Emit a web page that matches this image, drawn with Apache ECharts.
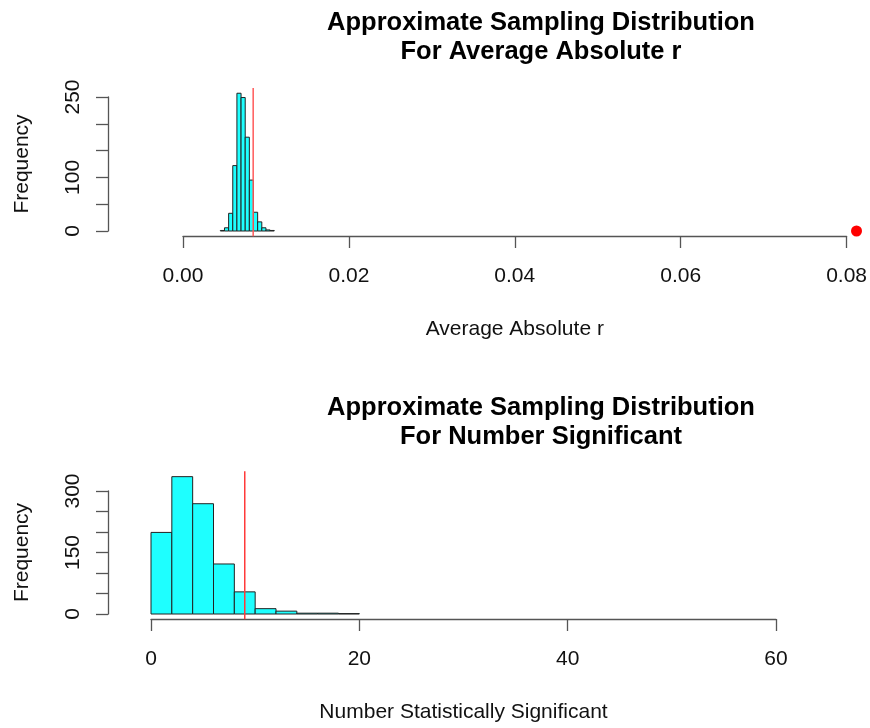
<!DOCTYPE html>
<html>
<head>
<meta charset="utf-8">
<script src="https://cdn.jsdelivr.net/npm/echarts@6/dist/echarts.min.js"></script>
<style>
  html, body { margin: 0; padding: 0; background: #fff; }
  #chart { width: 870px; height: 728px; }
</style>
</head>
<body>
<div id="chart"></div>
<script>
// top histogram: average absolute r
var topBinEdges = [0.0045, 0.005, 0.0055, 0.006, 0.0065, 0.007, 0.0075, 0.008, 0.0085, 0.009, 0.0095, 0.01, 0.0105, 0.011];
var topCounts = [1, 6, 33, 122, 257, 249, 175, 95, 35, 17, 6, 2, 1];
var topObserved = 0.00846;      // red line
var topPoint = [0.0812, 0];     // red dot
var topUsrY = [-10, 267];       // plot region height in data units
var topXTicks = [0, 0.08, 0.02];
var topYTicks = [0, 250, 50];
var topYLabels = [0, 100, 250];

// bottom histogram: number significant
var botBinEdges = [0, 2, 4, 6, 8, 10, 12, 14, 16, 18, 20];
var botCounts = [199, 335, 269, 122, 54, 13, 7, 2, 2, 1];
var botObserved = 9;
var botUsrY = [-13, 348];
var botXTicks = [0, 60, 20];
var botYTicks = [0, 300, 50];
var botYLabels = [0, 150, 300];

var FONT = "'Liberation Sans', Arial, sans-serif";
var AXIS_COLOR = '#555';

function toBins(edges, counts) {
  return counts.map(function (c, i) { return [edges[i], edges[i + 1], c]; });
}

function histItem(params, api) {
  var a = api.coord([api.value(0), api.value(2)]);
  var b = api.coord([api.value(1), 0]);
  return {
    type: 'rect',
    shape: { x: a[0], y: a[1], width: b[0] - a[0], height: b[1] - a[1] },
    style: { fill: '#1effff', stroke: '#222', lineWidth: 1 }
  };
}

function xAxisOf(idx, ticks, name, offset, fmt) {
  return {
    type: 'value', gridIndex: idx, min: ticks[0], max: ticks[1], interval: ticks[2],
    offset: offset,
    axisLine: { show: true, onZero: false, lineStyle: { color: AXIS_COLOR, width: 1.3 } },
    axisTick: { show: true, length: 12, lineStyle: { color: AXIS_COLOR, width: 1.3 } },
    axisLabel: { margin: 30, color: '#111', fontSize: 21, fontFamily: FONT, formatter: fmt },
    splitLine: { show: false },
    name: name, nameLocation: 'middle', nameGap: 83,
    nameTextStyle: { color: '#111', fontSize: 21, fontFamily: FONT }
  };
}

function yAxisOf(idx, ticks, labels, offset) {
  return {
    type: 'value', gridIndex: idx, min: ticks[0], max: ticks[1], interval: ticks[2],
    offset: offset,
    axisLine: { show: true, onZero: false, lineStyle: { color: AXIS_COLOR, width: 1.3 } },
    axisTick: { show: true, length: 12, lineStyle: { color: AXIS_COLOR, width: 1.3 } },
    axisLabel: {
      rotate: 90, margin: 24, color: '#111', fontSize: 21, fontFamily: FONT,
      formatter: function (v) { return labels.indexOf(v) >= 0 ? String(v) : ''; }
    },
    splitLine: { show: false },
    name: 'Frequency', nameLocation: 'middle', nameRotate: 90, nameGap: 75,
    nameTextStyle: { color: '#111', fontSize: 21, fontFamily: FONT }
  };
}

var chart = echarts.init(document.getElementById('chart'), null, { renderer: 'canvas' });

var titleStyle = { fontSize: 25.5, fontWeight: 'bold', color: '#000', fontFamily: FONT, lineHeight: 28.5 };

var option = {
  backgroundColor: '#fff',
  animation: false,
  title: [
    {
      text: 'Approximate Sampling Distribution\nFor Average Absolute r',
      left: 536, top: 4, textAlign: 'center', textStyle: titleStyle
    },
    {
      text: 'Approximate Sampling Distribution\nFor Number Significant',
      left: 536, top: 389, textAlign: 'center', textStyle: titleStyle
    }
  ],
  grid: [
    { left: 183, width: 665, top: 97, height: 134 },
    { left: 151, width: 625, top: 491, height: 123 }
  ],
  xAxis: [
    xAxisOf(0, topXTicks, 'Average Absolute r', 5, function (v) { return v.toFixed(2); }),
    xAxisOf(1, botXTicks, 'Number Statistically Significant', 5, function (v) { return String(v); })
  ],
  yAxis: [
    yAxisOf(0, topYTicks, topYLabels, 75),
    yAxisOf(1, botYTicks, botYLabels, 43)
  ],
  series: [
    {
      type: 'custom', xAxisIndex: 0, yAxisIndex: 0, clip: false,
      renderItem: histItem, data: toBins(topBinEdges, topCounts)
    },
    {
      type: 'line', xAxisIndex: 0, yAxisIndex: 0, clip: false, symbol: 'none',
      lineStyle: { color: '#ff5a5a', width: 1.5 },
      data: [[topObserved, topUsrY[0]], [topObserved, topUsrY[1]]]
    },
    {
      type: 'scatter', xAxisIndex: 0, yAxisIndex: 0, clip: false,
      symbolSize: 11, itemStyle: { color: '#ff0000', opacity: 1 },
      data: [topPoint]
    },
    {
      type: 'custom', xAxisIndex: 1, yAxisIndex: 1, clip: false,
      renderItem: histItem, data: toBins(botBinEdges, botCounts)
    },
    {
      type: 'line', xAxisIndex: 1, yAxisIndex: 1, clip: false, symbol: 'none',
      lineStyle: { color: '#ff3a3a', width: 1.5 },
      data: [[botObserved, botUsrY[0]], [botObserved, botUsrY[1]]]
    }
  ]
};

chart.setOption(option);
</script>
</body>
</html>
